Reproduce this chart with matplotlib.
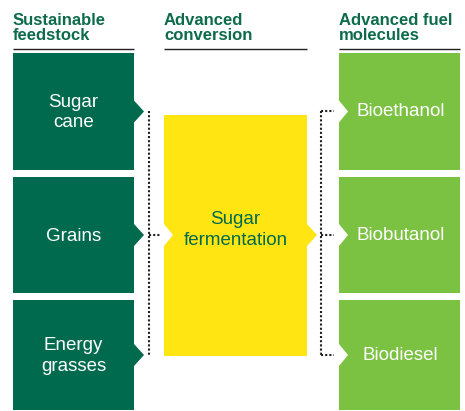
"""
Advanced biofuels pathway: feedstock -> conversion -> fuel molecules
"""

import matplotlib.pyplot as plt
from matplotlib.patches import Polygon

plt.rcParams['font.family'] = ['Liberation Sans', 'DejaVu Sans']

# Chart content
headers = ["Sustainable\nfeedstock", "Advanced\nconversion", "Advanced fuel\nmolecules"]
feedstock = ["Sugar\ncane", "Grains", "Energy\ngrasses"]
conversion = ["Sugar\nfermentation"]
fuels = ["Bioethanol", "Biobutanol", "Biodiesel"]

# Colours
DARK = '#006A4E'
LIGHT = '#7CC242'
YELLOW = '#FFE512'
HEAD = '#0D6B4B'
DOTS = '#231F20'

# Layout (pixel units, y downward)
W, H = 465, 411
cols = [(13, 134), (164, 307), (339, 460)]
rows = [(53, 170), (177, 293), (300, 410)]
conv_box = (115, 356)
ARROW_D, ARROW_H = 10, 11

fig = plt.figure(figsize=(W / 100, H / 100), dpi=100)
ax = fig.add_axes([0, 0, 1, 1])
ax.set_xlim(0, W)
ax.set_ylim(H, 0)
ax.axis('off')


def shape(x0, x1, y0, y1, cy, color, arrow_out=False, notch_in=False):
    pts = [(x0, y0), (x1, y0)]
    if arrow_out:
        pts += [(x1, cy - ARROW_H), (x1 + ARROW_D, cy), (x1, cy + ARROW_H)]
    pts += [(x1, y1), (x0, y1)]
    if notch_in:
        pts += [(x0, cy + ARROW_H), (x0 + ARROW_D - 1, cy), (x0, cy - ARROW_H)]
    return Polygon(pts, closed=True, facecolor=color, edgecolor='none')


# headers and rules
for (x0, x1), txt in zip(cols, headers):
    ax.text(x0, 28, txt, ha='left', va='center', fontsize=12, fontweight='bold',
            color=HEAD, linespacing=1.0)
    ax.plot([x0, x1], [49, 49], color='#231F20', lw=1.0, solid_capstyle='butt')

centers = [(a + b) / 2 for a, b in rows]

# feedstock boxes
x0, x1 = cols[0]
for (y0, y1), cy, txt in zip(rows, centers, feedstock):
    ax.add_patch(shape(x0, x1, y0, y1, cy, DARK, arrow_out=True))
    ax.text((x0 + x1) / 2, cy + 1, txt, ha='center', va='center', fontsize=13.5,
            color='white', linespacing=1.3)

# conversion box
x0, x1 = cols[1]
cy_mid = centers[1]
ax.add_patch(shape(x0, x1, conv_box[0], conv_box[1], cy_mid, YELLOW,
                   arrow_out=True, notch_in=True))
ax.text((x0 + x1) / 2, cy_mid - 5, conversion[0], ha='center', va='center',
        fontsize=13.5, color=DARK, linespacing=1.3)

# fuel boxes
x0, x1 = cols[2]
for (y0, y1), cy, txt in zip(rows, centers, fuels):
    ax.add_patch(shape(x0, x1, y0, y1, cy, LIGHT, notch_in=True))
    ax.text((x0 + x1) / 2 + 1, cy, txt, ha='center', va='center', fontsize=13.5,
            color='white')

# dotted connectors
dot = dict(color=DOTS, lw=1.5, linestyle=(0, (1, 1.0)), dash_capstyle='butt')
lx, rx = 148.5, 321
ax.plot([lx, lx], [centers[0], centers[2]], **dot)
ax.plot([lx, 161], [cy_mid, cy_mid], **dot)
ax.plot([rx, rx], [centers[0], centers[2]], **dot)
for cy in centers:
    ax.plot([rx, 334], [cy, cy], **dot)

fig.savefig('out.png', dpi=100)
